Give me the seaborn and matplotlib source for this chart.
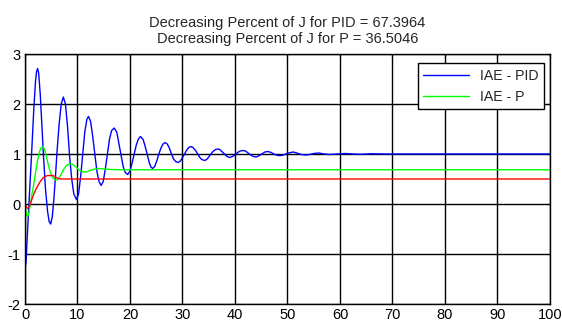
import pandas as pd
import matplotlib
matplotlib.use('Agg')
import matplotlib.pyplot as plt
import seaborn as sns

# values
t_pid = [0, 0.2, 0.5, 0.9, 1.3, 1.7, 2.0, 2.2, 2.4, 2.6, 2.9, 3.2, 3.5, 3.9, 4.3,
         4.6, 4.9, 5.2, 5.5, 5.8, 6.1, 6.5, 6.9, 7.3, 7.7, 8.1, 8.5, 8.9, 9.3,
         9.8, 10.2, 10.6, 11.0, 11.4, 11.8, 12.1, 12.5, 12.9, 13.3, 13.7, 14.1,
         14.5, 14.9, 15.3, 15.7, 16.1, 16.5, 17.0, 17.5, 17.9, 18.3, 18.7, 19.1,
         19.55, 20.0, 20.4, 20.8, 21.2, 21.6, 22.0, 22.5, 22.9, 23.3, 23.7, 24.0,
         24.3, 24.7, 25.1, 25.5, 25.9, 26.3, 26.7, 27.1, 27.5, 27.9, 28.3, 28.7,
         29.2, 29.6, 30.0, 30.4, 30.8, 31.2, 31.6, 32.0, 32.5, 32.9, 33.3, 33.7,
         34.2, 34.6, 35.0, 35.4, 35.9, 36.3, 36.7, 37.1, 37.6, 38.0, 38.5, 39.0,
         39.5, 40.0, 40.5, 41.0, 41.5, 42.0, 42.5, 43.0, 43.5, 44.0, 44.5, 45.1,
         45.7, 46.3, 46.9, 47.6, 48.2, 48.9, 49.5, 50.2, 51.1, 51.8, 52.6, 53.5,
         54.2, 55.0, 56.0, 57.0, 58.0, 59.5, 61, 62.5, 64, 66, 68.5, 100]
iae_pid = [-1.3, -1.15, -0.5, 0.3, 1.1, 1.95, 2.45, 2.65, 2.71, 2.62, 2.2, 1.6,
           1.0, 0.3, -0.15, -0.35, -0.40, -0.25, 0.1, 0.55, 1.05, 1.6, 2.0, 2.14,
           2.0, 1.55, 0.95, 0.5, 0.2, 0.09, 0.2, 0.55, 1.0, 1.45, 1.7, 1.75, 1.65,
           1.35, 1.0, 0.65, 0.45, 0.37, 0.45, 0.7, 1.0, 1.3, 1.47, 1.52, 1.43, 1.2,
           0.97, 0.75, 0.63, 0.59, 0.66, 0.82, 1.0, 1.18, 1.3, 1.35, 1.29, 1.15,
           0.98, 0.82, 0.74, 0.71, 0.75, 0.86, 1.0, 1.12, 1.2, 1.23, 1.2, 1.12,
           1.0, 0.9, 0.85, 0.83, 0.86, 0.93, 1.0, 1.08, 1.13, 1.15, 1.13, 1.07,
           1.0, 0.93, 0.89, 0.87, 0.89, 0.94, 1.0, 1.06, 1.09, 1.10, 1.09, 1.04,
           1.0, 0.95, 0.93, 0.95, 0.98, 1.03, 1.06, 1.07, 1.06, 1.02, 0.98, 0.95,
           0.94, 0.96, 1.0, 1.04, 1.05, 1.03, 0.99, 0.97, 0.97, 0.99, 1.02, 1.04,
           1.02, 0.99, 0.98, 0.99, 1.01, 1.02, 1.0, 0.99, 1.0, 1.01, 1.0, 0.995,
           1.005, 1.0, 1.0]

t_p = [0, 0.25, 0.45, 0.7, 1.0, 1.3, 1.6, 2.0, 2.4, 2.8, 3.1, 3.4, 3.7, 4.0, 4.4,
       4.8, 5.2, 5.6, 6.0, 6.4, 6.9, 7.4, 7.9, 8.4, 8.9, 9.4, 9.9, 10.4, 10.9,
       11.4, 12.0, 12.6, 13.3, 14.0, 15, 16.5, 18, 100]
iae_p = [-0.05, -0.2, -0.26, -0.2, -0.02, 0.18, 0.35, 0.62, 0.88, 1.06, 1.13, 1.15,
         1.1, 0.98, 0.8, 0.64, 0.54, 0.49, 0.48, 0.51, 0.6, 0.7, 0.77, 0.8, 0.80,
         0.77, 0.72, 0.67, 0.645, 0.64, 0.65, 0.68, 0.70, 0.71, 0.70, 0.69, 0.685,
         0.685]

t_ref = [0, 0.25, 0.45, 0.7, 1.0, 1.4, 1.8, 2.3, 2.9, 3.5, 4.0, 4.5, 5.3, 5.8, 6.3,
         7.0, 100]
ref = [0.0, -0.06, -0.09, -0.07, 0.0, 0.12, 0.23, 0.34, 0.45, 0.53, 0.56, 0.57,
       0.57, 0.54, 0.51, 0.5, 0.5]

title_lines = ['Decreasing Percent of J for PID = 67.3964',
               'Decreasing Percent of J for P = 36.5046']

sns.set_style('white')
plt.rcParams['font.family'] = ['Liberation Sans', 'DejaVu Sans']
plt.rcParams['axes.unicode_minus'] = False

fig = plt.figure(figsize=(5.62, 3.23), dpi=100)
ax = fig.add_axes([0.0445, 0.0588, 0.934, 0.774])

sns.lineplot(x=t_pid, y=iae_pid, color='#0000ff', lw=1, label='IAE - PID',
             sort=False, estimator=None, ax=ax)
sns.lineplot(x=t_p, y=iae_p, color='#00ff00', lw=1, label='IAE - P',
             sort=False, estimator=None, ax=ax)
sns.lineplot(x=t_ref, y=ref, color='#ff0000', lw=1, sort=False,
             estimator=None, ax=ax)

ax.set_xlim(0, 100)
ax.set_ylim(-2, 3)
ax.set_xticks(range(0, 101, 10))
ax.set_yticks(range(-2, 4))
ax.grid(True, color='black', lw=1)
for s in ax.spines.values():
    s.set_color('black')
    s.set_linewidth(1)
ax.tick_params(direction='in', length=3, labelsize=10.5, pad=3,
               top=True, right=True, colors='black')
ax.set_title('\n'.join(title_lines), fontsize=10.5, pad=8, linespacing=1.15)

leg = ax.legend(loc='upper right', bbox_to_anchor=(0.989, 0.964),
                borderaxespad=0, fancybox=False, edgecolor='black',
                framealpha=1, fontsize=10.2, handlelength=3.2, labelspacing=0.5)
leg.get_frame().set_linewidth(1)

fig.savefig('out.png', dpi=100)
